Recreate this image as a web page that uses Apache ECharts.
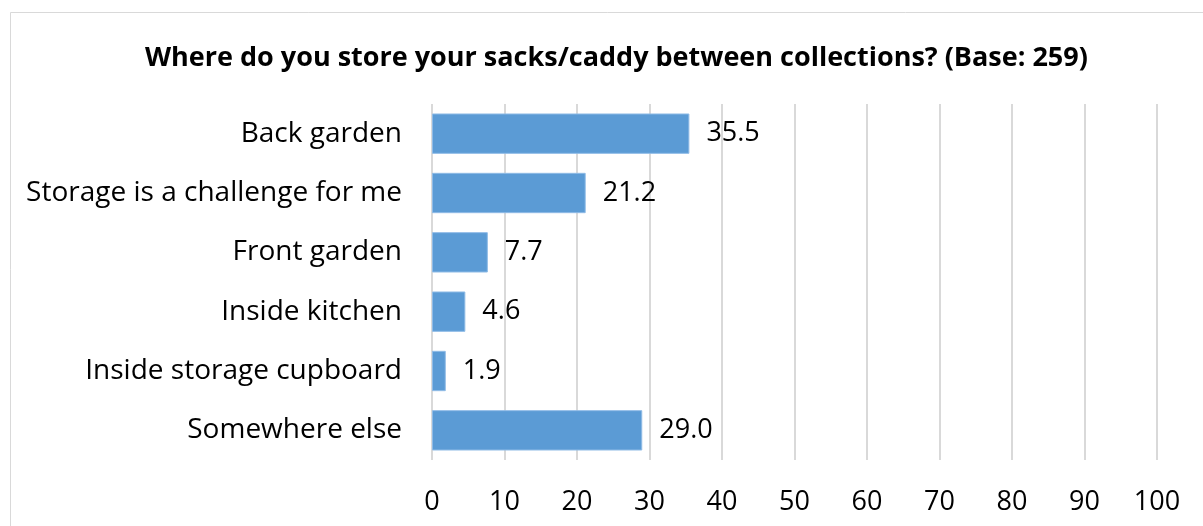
<!DOCTYPE html>
<html>
<head>
<meta charset="utf-8">
<script src="https://cdn.jsdelivr.net/npm/echarts@6/dist/echarts.min.js"></script>
<style>
html,body{margin:0;padding:0;background:#fff;}
#chart{width:1203px;height:526px;}
</style>
</head>
<body>
<div id="chart"></div>
<script>
const titleText = 'Where do you store your sacks/caddy between collections? (Base: 259)';
const categories = ['Back garden', 'Storage is a challenge for me', 'Front garden', 'Inside kitchen', 'Inside storage cupboard', 'Somewhere else'];
const values = [35.5, 21.2, 7.7, 4.6, 1.9, 29.0];
const axisMin = 0, axisMax = 100, axisStep = 10;

const font = 'Open Sans, Liberation Sans, Arial, sans-serif';
const chart = echarts.init(document.getElementById('chart'), null, {renderer: 'canvas'});
chart.setOption({
  animation: false,
  backgroundColor: '#ffffff',
  graphic: [{
    type: 'rect', shape: {x: 10.5, y: 12.5, width: 1300, height: 600},
    style: {fill: 'none', stroke: '#d9d9d9', lineWidth: 1}, silent: true
  }],
  title: {
    text: titleText, left: 140, top: 40,
    textStyle: {fontFamily: font, fontWeight: 'bold', fontSize: 27, color: '#000'}
  },
  grid: {left: 432, right: 46, top: 104, bottom: 66, containLabel: false},
  xAxis: {
    type: 'value', min: axisMin, max: axisMax, interval: axisStep,
    axisLine: {show: false}, axisTick: {show: false},
    splitLine: {show: true, lineStyle: {color: '#d9d9d9', width: 2}},
    axisLabel: {fontFamily: font, fontSize: 27, color: '#000', margin: 29,
      formatter: v => String(v)}
  },
  yAxis: {
    type: 'category', data: categories, inverse: true,
    axisLine: {show: false}, axisTick: {show: false},
    axisLabel: {fontFamily: font, fontSize: 28, color: '#000', margin: 30}
  },
  series: [{
    type: 'bar', data: values, barWidth: '68%',
    itemStyle: {color: '#5b9bd5', borderColor: '#8fbbe6', borderWidth: 1},
    label: {show: true, position: 'right', distance: 17, fontFamily: font, fontSize: 27, color: '#000',
      formatter: p => p.value.toFixed(1)}
  }]
});
</script>
</body>
</html>
